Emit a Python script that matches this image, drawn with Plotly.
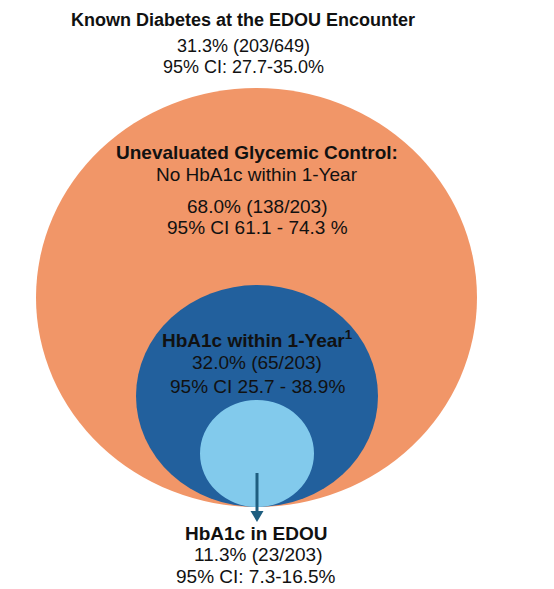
import plotly.graph_objects as go

# ---- data ----
groups = ["Known Diabetes at the EDOU Encounter",
          "Unevaluated Glycemic Control:",
          "HbA1c within 1-Year",
          "HbA1c in EDOU"]
numerators = [203, 138, 65, 23]
denominators = [649, 203, 203, 203]
percents = [31.3, 68.0, 32.0, 11.3]
ci_labels = ["95% CI: 27.7-35.0%", "95% CI 61.1 - 74.3 %",
             "95% CI 25.7 - 38.9%", "95% CI: 7.3-16.5%"]

W, H = 554, 589
FONT = "Liberation Sans, Arial, sans-serif"
ORANGE = "#F19668"
DBLUE = "#22609D"
LBLUE = "#82CAEC"
ARROW = "#1E5E80"

fig = go.Figure()
fig.add_trace(go.Scatter(x=[0, W], y=[0, H], mode="markers",
                         marker=dict(opacity=0), hoverinfo="skip", showlegend=False))

# nested ellipses (diagram geometry in pixel coordinates)
circles = [
    (36, 88, 477, 507, ORANGE),
    (136, 285, 378, 507, DBLUE),
    (200, 400, 314, 507, LBLUE),
]
for x0, y0, x1, y1, c in circles:
    fig.add_shape(type="circle", xref="x", yref="y", x0=x0, y0=y0, x1=x1, y1=y1,
                  fillcolor=c, line=dict(width=0), layer="below")

def txt(x, y, s, bold=False, size=19):
    fig.add_annotation(x=x, y=y, xref="x", yref="y", text=("<b>%s</b>" % s) if bold else s,
                       showarrow=False, font=dict(family=FONT, size=size, color="#111111"),
                       xanchor="center", yanchor="middle")

def frac(i):
    return "%.1f%% (%d/%d)" % (percents[i], numerators[i], denominators[i])

# title block
txt(243, 20, groups[0], bold=True, size=18)
txt(243, 46, frac(0), size=18)
txt(243, 67, ci_labels[0], size=18)

# orange ellipse
txt(257, 152, groups[1], bold=True)
txt(257, 174, "No HbA1c within 1-Year")
txt(257, 206, frac(1))
txt(257, 227, ci_labels[1])

# dark blue
txt(257, 339, groups[2] + "<sup>1</sup>", bold=True)
txt(257, 362, frac(2))
txt(257, 386, ci_labels[2])

# light blue (below)
txt(256, 533, groups[3], bold=True)
txt(258, 554, frac(3))
txt(256, 576, ci_labels[3])

# arrow (shaft + head)
fig.add_shape(type="line", xref="x", yref="y", x0=257, y0=473, x1=257, y1=512,
              line=dict(color=ARROW, width=3))
fig.add_shape(type="path", xref="x", yref="y",
              path="M 250.5,511 L 263.5,511 L 257,522 Z",
              fillcolor=ARROW, line=dict(width=0))

fig.update_xaxes(range=[0, W], visible=False, fixedrange=True)
fig.update_yaxes(range=[H, 0], visible=False, fixedrange=True)
fig.update_layout(width=W, height=H, margin=dict(l=0, r=0, t=0, b=0),
                  paper_bgcolor="white", plot_bgcolor="white", showlegend=False)

fig.write_html("out.html", config={"displayModeBar": False})
